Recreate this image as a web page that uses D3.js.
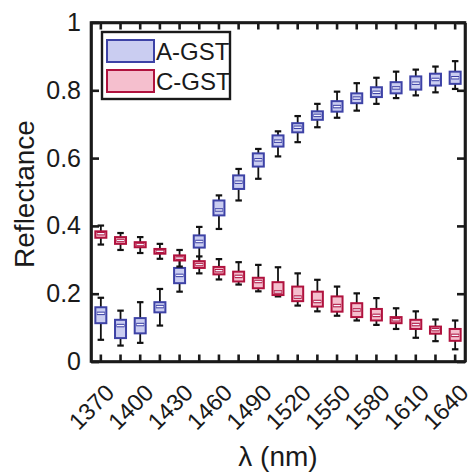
<!DOCTYPE html>
<html>
<head>
<meta charset="utf-8">
<script src="https://cdn.jsdelivr.net/npm/d3@7"></script>
<style>
  html, body { margin: 0; padding: 0; background: #fff; }
  svg { display: block; font-family: "Liberation Sans", Arial, Helvetica, sans-serif; }
</style>
</head>
<body>
<svg id="chart" width="475" height="472"></svg>
<script>
// ---------- data ----------
const categories = [1370, 1385, 1400, 1415, 1430, 1445, 1460, 1475, 1490, 1505, 1520, 1535, 1550, 1565, 1580, 1595, 1610, 1625, 1640];
const tickLabels = ["1370", "1400", "1430", "1460", "1490", "1520", "1550", "1580", "1610", "1640"];
const yTicks = [0, 0.2, 0.4, 0.6, 0.8, 1];
const seriesNames = ["A-GST", "C-GST"];

// A-GST (amorphous)
const aWhiskerHigh = [0.188, 0.150, 0.175, 0.214, 0.310, 0.397, 0.490, 0.568, 0.627, 0.679, 0.724, 0.760, 0.796, 0.821, 0.837, 0.855, 0.861, 0.870, 0.886];
const aQ3          = [0.160, 0.123, 0.128, 0.175, 0.276, 0.372, 0.475, 0.549, 0.614, 0.667, 0.703, 0.738, 0.768, 0.791, 0.809, 0.824, 0.841, 0.849, 0.855];
const aMedian      = [0.142, 0.106, 0.109, 0.162, 0.254, 0.354, 0.447, 0.529, 0.595, 0.650, 0.691, 0.726, 0.752, 0.777, 0.794, 0.807, 0.821, 0.832, 0.837];
const aQ1          = [0.113, 0.069, 0.083, 0.145, 0.231, 0.336, 0.431, 0.509, 0.575, 0.634, 0.676, 0.713, 0.737, 0.762, 0.780, 0.791, 0.802, 0.814, 0.819];
const aWhiskerLow  = [0.064, 0.047, 0.055, 0.106, 0.206, 0.280, 0.391, 0.475, 0.539, 0.605, 0.647, 0.691, 0.719, 0.740, 0.760, 0.777, 0.785, 0.794, 0.804];

// C-GST (crystalline)
const cWhiskerHigh = [0.401, 0.379, 0.367, 0.347, 0.329, 0.310, 0.302, 0.293, 0.285, 0.278, 0.260, 0.241, 0.221, 0.201, 0.187, 0.157, 0.148, 0.124, 0.121];
const cQ3          = [0.384, 0.367, 0.352, 0.332, 0.313, 0.296, 0.279, 0.265, 0.247, 0.234, 0.221, 0.206, 0.192, 0.172, 0.155, 0.131, 0.123, 0.103, 0.096];
const cMedian      = [0.377, 0.357, 0.345, 0.325, 0.305, 0.286, 0.268, 0.251, 0.236, 0.205, 0.190, 0.177, 0.165, 0.152, 0.136, 0.123, 0.109, 0.094, 0.077];
const cQ1          = [0.365, 0.347, 0.337, 0.318, 0.298, 0.276, 0.257, 0.236, 0.216, 0.196, 0.178, 0.162, 0.147, 0.131, 0.121, 0.113, 0.096, 0.082, 0.061];
const cWhiskerLow  = [0.345, 0.329, 0.320, 0.303, 0.280, 0.260, 0.242, 0.227, 0.207, 0.192, 0.165, 0.148, 0.135, 0.121, 0.108, 0.096, 0.070, 0.060, 0.036];

// ---------- layout ----------
const svg = d3.select("#chart");
const L = 91, R = 465, T = 22.5, B = 361.5;
const font = "'Liberation Sans', Arial, Helvetica, sans-serif";

const x = d3.scaleBand().domain(categories).range([L, R]).paddingInner(0).paddingOuter(0);
const y = d3.scaleLinear().domain([0, 1]).range([B, T]);
const cx = c => x(c) + x.bandwidth() / 2;

const styles = {
  "A-GST": { stroke: "#3d42a6", fill: "#cacdf1" },
  "C-GST": { stroke: "#b0123e", fill: "#f5bfce" }
};

function buildSeries(name, lo, q1, med, q3, hi) {
  return categories.map((c, i) => ({ name, c, lo: lo[i], q1: q1[i], med: med[i], q3: q3[i], hi: hi[i] }));
}
const series = [
  buildSeries("A-GST", aWhiskerLow, aQ1, aMedian, aQ3, aWhiskerHigh),
  buildSeries("C-GST", cWhiskerLow, cQ1, cMedian, cQ3, cWhiskerHigh)
];

const boxW = 11, capW = 6.5;

const plot = svg.append("g");
series.forEach(data => {
  const st = styles[data[0].name];
  const g = plot.append("g").selectAll("g").data(data).join("g");
  g.append("line")
    .attr("x1", d => cx(d.c)).attr("x2", d => cx(d.c))
    .attr("y1", d => y(d.hi)).attr("y2", d => y(d.q3))
    .attr("stroke", "#111").attr("stroke-width", 1.8);
  g.append("line")
    .attr("x1", d => cx(d.c)).attr("x2", d => cx(d.c))
    .attr("y1", d => y(d.q1)).attr("y2", d => y(d.lo))
    .attr("stroke", "#111").attr("stroke-width", 1.8);
  g.append("line")
    .attr("x1", d => cx(d.c) - capW / 2).attr("x2", d => cx(d.c) + capW / 2)
    .attr("y1", d => y(d.hi)).attr("y2", d => y(d.hi))
    .attr("stroke", "#111").attr("stroke-width", 2.2);
  g.append("line")
    .attr("x1", d => cx(d.c) - capW / 2).attr("x2", d => cx(d.c) + capW / 2)
    .attr("y1", d => y(d.lo)).attr("y2", d => y(d.lo))
    .attr("stroke", "#111").attr("stroke-width", 2.2);
  g.append("rect")
    .attr("x", d => cx(d.c) - boxW / 2).attr("width", boxW)
    .attr("y", d => y(d.q3)).attr("height", d => Math.max(1, y(d.q1) - y(d.q3)))
    .attr("fill", st.fill).attr("stroke", st.stroke).attr("stroke-width", 2);
  g.append("line")
    .attr("x1", d => cx(d.c) - boxW / 2 + 1.5).attr("x2", d => cx(d.c) + boxW / 2 - 1.5)
    .attr("y1", d => y(d.med)).attr("y2", d => y(d.med))
    .attr("stroke", st.stroke).attr("stroke-width", 3.5);
  g.append("line")
    .attr("x1", d => cx(d.c) - boxW / 2 + 2).attr("x2", d => cx(d.c) + boxW / 2 - 2)
    .attr("y1", d => y(d.med)).attr("y2", d => y(d.med))
    .attr("stroke", "#f4f4ff").attr("stroke-width", 1.4);
});

// ---------- axes ----------
const labelSet = new Set(tickLabels);
const axW = 2.6;

const gBottom = svg.append("g").attr("transform", `translate(0,${B})`)
  .call(d3.axisBottom(x).tickSizeInner(-7).tickSizeOuter(0)
    .tickFormat(c => labelSet.has(String(c)) ? String(c) : ""));
gBottom.selectAll("text")
  .attr("x", null).attr("y", null).attr("dy", "0.35em")
  .attr("transform", "translate(9,27) rotate(-45)")
  .attr("text-anchor", "end")
  .attr("font-size", 23.5).attr("font-family", font).attr("fill", "#1a1a1a");

const gTop = svg.append("g").attr("transform", `translate(0,${T})`)
  .call(d3.axisTop(x).tickSizeInner(-7).tickSizeOuter(0).tickFormat(""));

const gLeft = svg.append("g").attr("transform", `translate(${L},0)`)
  .call(d3.axisLeft(y).tickValues(yTicks).tickSizeInner(-8).tickSizeOuter(0).tickPadding(10)
    .tickFormat(d => d3.format("~g")(d)));
gLeft.selectAll("text").attr("font-size", 25).attr("font-family", font).attr("fill", "#1a1a1a");

const gRight = svg.append("g").attr("transform", `translate(${R},0)`)
  .call(d3.axisRight(y).tickValues(yTicks).tickSizeInner(-8).tickSizeOuter(0).tickFormat(""));

[gBottom, gTop, gLeft, gRight].forEach(g => {
  g.select(".domain").attr("stroke", "#1a1a1a").attr("stroke-width", axW);
  g.selectAll(".tick line").attr("stroke", "#1a1a1a").attr("stroke-width", axW);
});
svg.append("rect").attr("x", L).attr("y", T).attr("width", R - L).attr("height", B - T)
  .attr("fill", "none").attr("stroke", "#1a1a1a").attr("stroke-width", axW);

// axis titles
svg.append("text")
  .attr("transform", `translate(34,${(T + B) / 2 + 2}) rotate(-90)`)
  .attr("text-anchor", "middle")
  .attr("font-size", 28).attr("font-family", font).attr("fill", "#1a1a1a")
  .text("Reflectance");
svg.append("text")
  .attr("x", (L + R) / 2).attr("y", 466)
  .attr("text-anchor", "middle")
  .attr("font-size", 28).attr("font-family", font).attr("fill", "#1a1a1a")
  .text("λ (nm)");

// ---------- legend ----------
const leg = svg.append("g");
leg.append("rect").attr("x", 102).attr("y", 32).attr("width", 128).attr("height", 67)
  .attr("fill", "#fff").attr("stroke", "#1a1a1a").attr("stroke-width", 2.4);
seriesNames.forEach((n, i) => {
  const yy = 40 + i * 30;
  leg.append("rect").attr("x", 107).attr("y", yy).attr("width", 47).attr("height", 22)
    .attr("fill", styles[n].fill).attr("stroke", styles[n].stroke).attr("stroke-width", 2);
  leg.append("text").attr("x", 156).attr("y", yy + 11).attr("dy", "0.36em")
    .attr("font-size", 24).attr("font-family", font).attr("fill", "#1a1a1a")
    .text(n);
});
</script>
</body>
</html>
